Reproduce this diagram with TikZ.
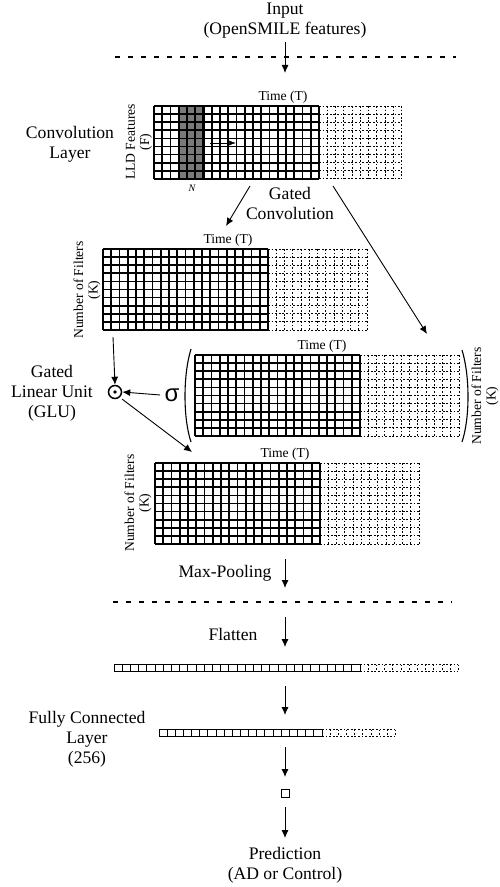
\documentclass[tikz,border=0pt]{standalone}
\usepackage{fontspec}
\setmainfont{Liberation Serif}
\newfontfamily\sigmafont{Liberation Sans}
\usetikzlibrary{arrows.meta}
\tikzset{
  cell/.style={line width=0.85pt},
  ghost/.style={line width=0.45pt, dash pattern=on 0.9pt off 0.9pt},
  flow/.style={-{Latex[length=4pt,width=3.5pt]}, line width=0.45pt},
  lbl/.style={font=\fontsize{8.8}{10}\selectfont, align=center, inner sep=0pt},
  axis/.style={font=\fontsize{6.8}{7.2}\selectfont, align=center, inner sep=0pt},
  sep/.style={line width=0.6pt, dash pattern=on 2.5pt off 4pt},
}
\begin{document}
\begin{tikzpicture}[x=0.5pt, y=-0.5pt]
        \useasboundingbox (0,0) rectangle (499,887);
        % input
        \node[lbl] (input) at (285,21) {Input\\(OpenSMILE features)};
        \coordinate (in1) at (285,73);
        \draw[flow] (input.south) ++(0,3) -- (in1);
        \coordinate (sepL1) at (115,57);
        \coordinate (sepR1) at (456,57);
        \draw[sep] (sepL1) -- (sepR1);

        % convolution layer
        \foreach \i in {20,...,30} \draw[ghost] ({154+8.25*\i},106) -- ++(0,72.9);
        \foreach \j in {0,...,9} \draw[ghost] (319,{106+8.1*\j}) -- ++(82.5,0);
        \fill[black!52] (178.75,106) rectangle ++(24.75,72.9);
        \foreach \i in {0,...,20} \draw[cell] ({154+8.25*\i},106) -- ++(0,72.9);
        \foreach \j in {0,...,9} \draw[cell] (154,{106+8.1*\j}) -- ++(165,0);
        \draw[line width=1.1pt] (178.75,106) rectangle ++(24.75,72.9);
        \node[axis] (time1) at (283,97) {Time (T)};
        \node[axis, rotate=90] (feat) at (139,142) {LLD Features\\(F)};
        \node[lbl] (conv) at (70,144) {Convolution\\Layer};
        \node[font=\fontsize{5}{6}\selectfont\itshape, inner sep=0pt] (kern) at (192,188) {N};
        \coordinate (slideA) at (210,143);
        \coordinate (slideB) at (236,143);
        \draw[flow, line width=0.3pt, -{Latex[length=3.5pt,width=2.5pt]}] (slideA) -- (slideB);

        % gated convolution
        \node[lbl] (gconv) at (290,203) {Gated\\Convolution};
        \coordinate (toLin) at (226,226);
        \coordinate (toGate) at (427,334);
        \draw[flow] (250,186) -- (toLin);
        \draw[flow] (333,186) -- (toGate);

        % linear part
        \foreach \i in {20,...,32} \draw[ghost] ({103+8.25*\i},249) -- ++(0,81);
        \foreach \j in {0,...,10} \draw[ghost] (268,{249+8.1*\j}) -- ++(99,0);
        \foreach \i in {0,...,20} \draw[cell] ({103+8.25*\i},249) -- ++(0,81);
        \foreach \j in {0,...,10} \draw[cell] (103,{249+8.1*\j}) -- ++(165,0);
        \node[axis] (time2) at (228,240) {Time (T)};
        \node[axis, rotate=90] (filt2) at (87,290) {Number of Filters\\(K)};

        % gate part
        \foreach \i in {20,...,32} \draw[ghost] ({195+8.25*\i},355) -- ++(0,81);
        \foreach \j in {0,...,10} \draw[ghost] (360,{355+8.1*\j}) -- ++(99,0);
        \foreach \i in {0,...,20} \draw[cell] ({195+8.25*\i},355) -- ++(0,81);
        \foreach \j in {0,...,10} \draw[cell] (195,{355+8.1*\j}) -- ++(165,0);
        \node[axis] (time3) at (322,346) {Time (T)};
        \node[axis, rotate=90] (filt3) at (485,396) {Number of Filters\\(K)};
        \draw[line width=0.55pt] (191,349) .. controls (183,375) and (183,418) .. (191,442);
        \draw[line width=0.55pt] (462,350) .. controls (470,376) and (470,418) .. (462,442);
        \node[font=\sigmafont\fontsize{12}{12}\selectfont, inner sep=0pt] (sigma) at (172,395) {σ};

        % GLU
        \node[lbl] (glutext) at (52,393) {Gated\\Linear Unit\\(GLU)};
        \node[circle, draw, line width=0.75pt, minimum size=6.5pt, inner sep=0pt] (glu) at (115,392) {};
        \fill (glu) circle (0.9pt);
        \coordinate (linOut) at (113,337);
        \draw[flow] (linOut) -- (glu.north);
        \draw[flow] (sigma.west) ++(-4,0) -- (glu.east);
        \coordinate (toOut) at (192,452);
        \draw[flow] (glu.south east) ++(2,2) -- (toOut);

        % gated output
        \foreach \i in {20,...,32} \draw[ghost] ({155+8.25*\i},463) -- ++(0,81);
        \foreach \j in {0,...,10} \draw[ghost] (320,{463+8.1*\j}) -- ++(99,0);
        \foreach \i in {0,...,20} \draw[cell] ({155+8.25*\i},463) -- ++(0,81);
        \foreach \j in {0,...,10} \draw[cell] (155,{463+8.1*\j}) -- ++(165,0);
        \node[axis] (time4) at (285,454) {Time (T)};
        \node[axis, rotate=90] (filt4) at (138,503) {Number of Filters\\(K)};

        % pooling
        \node[lbl] (pool) at (225,573) {Max-Pooling};
        \coordinate (poolA) at (285,559);
        \coordinate (poolB) at (285,588);
        \draw[flow] (poolA) -- (poolB);
        \coordinate (sepL2) at (113,602);
        \coordinate (sepR2) at (452,602);
        \draw[sep] (sepL2) -- (sepR2);

        % flatten
        \node[lbl] (flat) at (233,634) {Flatten};
        \coordinate (flatA) at (285,617);
        \coordinate (flatB) at (285,647);
        \draw[flow] (flatA) -- (flatB);
        \foreach \i in {30,...,42} \draw[ghost, line width=0.35pt] ({114+8.2*\i},664.5) -- ++(0,7);
        \draw[ghost, line width=0.35pt] (360,664.5) -- ++(98.4,0) (360,671.5) -- ++(98.4,0);
        \foreach \i in {0,...,30} \draw[line width=0.5pt] ({114+8.2*\i},664.5) -- ++(0,7);
        \draw[line width=0.5pt] (114,664.5) -- ++(246,0) (114,671.5) -- ++(246,0);
        \coordinate (vecA) at (285,686);
        \coordinate (vecB) at (285,715);
        \draw[flow] (vecA) -- (vecB);

        % fully connected
        \node[lbl] (dense) at (87,739) {Fully Connected\\Layer\\(256)};
        \foreach \i in {20,...,29} \draw[ghost, line width=0.35pt] ({159+8.15*\i},729.5) -- ++(0,7);
        \draw[ghost, line width=0.35pt] (322,729.5) -- ++(73.4,0) (322,736.5) -- ++(73.4,0);
        \foreach \i in {0,...,20} \draw[line width=0.5pt] ({159+8.15*\i},729.5) -- ++(0,7);
        \draw[line width=0.5pt] (159,729.5) -- ++(163,0) (159,736.5) -- ++(163,0);
        \coordinate (denseA) at (285,747);
        \coordinate (denseB) at (285,777);
        \draw[flow] (denseA) -- (denseB);
        \node[draw, line width=0.5pt, minimum size=4pt, inner sep=0pt] (out) at (285,793) {};

        % prediction
        \node[lbl] (pred) at (285,865) {Prediction\\(AD or Control)};
        \coordinate (outA) at (285,807);
        \coordinate (outB) at (285,838);
        \draw[flow] (outA) -- (outB);
\end{tikzpicture}
\end{document}
